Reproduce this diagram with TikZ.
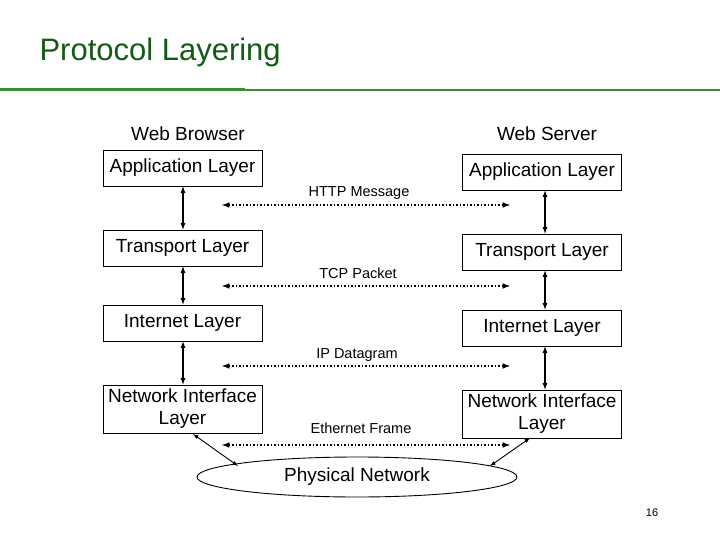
\documentclass[tikz,border=0pt]{standalone}
\usepackage{fontspec}
\setmainfont{Liberation Sans}
\usetikzlibrary{shapes.geometric}
\begin{document}
\begin{tikzpicture}[x=1pt,y=-1pt,
 box/.style={draw,line width=0.8pt,minimum width=159pt,inner sep=0pt,font=\fontsize{19}{22}\selectfont,align=center},
 lbl/.style={font=\fontsize{14.5}{16}\selectfont},
 lay/.style={line width=1.2pt,<->,>=latex},
 dots/.style={line width=1.5pt,dotted,<->,>=latex},
 txt/.style={font=\fontsize{19}{22}\selectfont}]
\useasboundingbox (0,0) rectangle (720,540);
\definecolor{tgreen}{RGB}{20,90,20}
\definecolor{lgreen}{RGB}{60,140,50}
\node[anchor=west,font=\fontsize{31}{34}\selectfont,text=tgreen] (title) at (36,52) {Protocol Layering};
\draw[lgreen,line width=2pt] (0,90) -- (720,90);
\draw[lgreen,line width=3pt] (0,90) -- (245,90);
\node[txt] (wb) at (188,134) {Web Browser};
\node[txt] (ws) at (547,134) {Web Server};
\node[box,minimum height=36pt] (a1) at (182.5,168) {Application Layer};
\node[box,minimum height=36pt] (t1) at (182.5,248) {Transport Layer};
\node[box,minimum height=36pt] (i1) at (182.5,323) {Internet Layer};
\node[box,minimum height=48pt] (n1) at (182.5,409) {Network Interface\\Layer};
\node[box,minimum height=36pt] (a2) at (542,172) {Application Layer};
\node[box,minimum height=36pt] (t2) at (542,252) {Transport Layer};
\node[box,minimum height=36pt] (i2) at (542,328) {Internet Layer};
\node[box,minimum height=48pt] (n2) at (542,414) {Network Interface\\Layer};
\node[draw,ellipse,line width=0.9pt,minimum width=320pt,minimum height=40pt,inner sep=0pt,txt] (pn) at (357,477) {Physical Network};
\draw[lay] (a1.south -| 183,0) -- (t1.north -| 183,0);
\draw[lay] (t1.south -| 183,0) -- (i1.north -| 183,0);
\draw[lay] (i1.south -| 183,0) -- (n1.north -| 183,0);
\draw[lay] (a2.south -| 545,0) -- (t2.north -| 545,0);
\draw[lay] (t2.south -| 545,0) -- (i2.north -| 545,0);
\draw[lay] (i2.south -| 545,0) -- (n2.north -| 545,0);
\coordinate (h1) at (222,205); \coordinate (h2) at (510,205);
\coordinate (p1) at (222,286); \coordinate (p2) at (510,286);
\coordinate (d1) at (222,366); \coordinate (d2) at (510,366);
\coordinate (e1) at (222,445); \coordinate (e2) at (510,445);
\draw[dots] (h1) -- (h2); \draw[dots] (p1) -- (p2);
\draw[dots] (d1) -- (d2); \draw[dots] (e1) -- (e2);
\node[lbl] (hl) at (359,193) {HTTP Message};
\node[lbl] (tl) at (358,273) {TCP Packet};
\node[lbl] (il) at (357,355) {IP Datagram};
\node[lbl] (el) at (361,428) {Ethernet Frame};
\coordinate (l1) at (193,434); \coordinate (l2) at (238,466);
\coordinate (r1) at (530,438); \coordinate (r2) at (490,466);
\draw[lay,line width=0.9pt] (l1) -- (l2);
\draw[lay,line width=0.9pt] (r1) -- (r2);
\node[font=\fontsize{11}{12}\selectfont] (pg) at (652,513) {16};
\end{tikzpicture}
\end{document}
